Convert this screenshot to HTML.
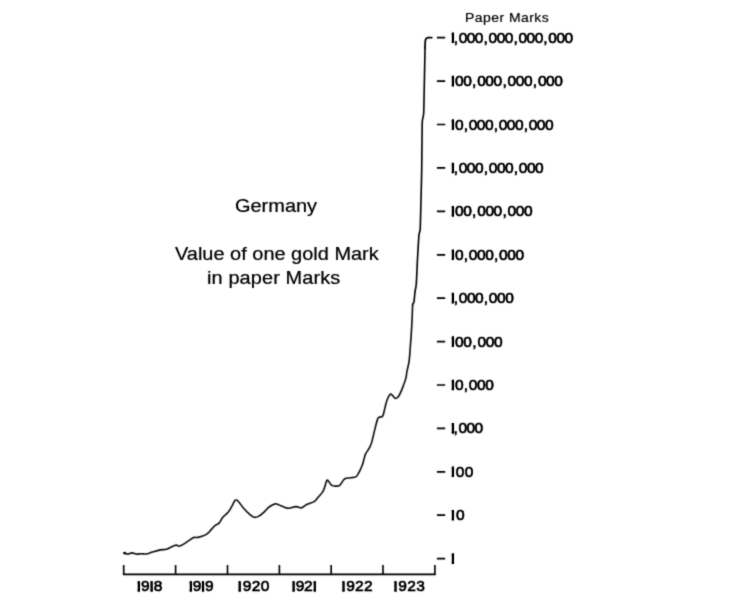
<!DOCTYPE html>
<html lang="en">
<head>
<meta charset="utf-8">
<title>Germany – Value of one gold Mark in paper Marks</title>
<style>
html,body{margin:0;padding:0;background:#fff;}
body{width:744px;height:606px;position:relative;overflow:hidden;font-family:"Liberation Sans",Arial,Helvetica,sans-serif;color:#1b1b1b;}
#chart{position:absolute;left:0;top:0;width:744px;height:606px;filter:url(#soft);}
svg{position:absolute;left:0;top:0;}
.t{position:absolute;white-space:nowrap;line-height:1;margin:0;}
.title{font-size:19.2px;color:#1d1d1d;-webkit-text-stroke:0.15px #1d1d1d;transform-origin:0 0;transform:scaleX(1.04);}
.unit{font-size:13.4px;color:#222;letter-spacing:0.43px;-webkit-text-stroke:0.12px #222;transform-origin:0 0;transform:scaleX(1.045);}
.n{font-size:15.5px;color:#151515;-webkit-text-stroke:0.55px #151515;letter-spacing:0;}
.o{display:inline-block;-webkit-text-stroke-width:1.8px;clip-path:inset(2.7px calc(100% - 5.7px) 2.2px 3.5px);margin-left:-2.3px;margin-right:-1.55px;}
.c{display:inline-block;margin:0 1.2px 0 0.6px;}
.k{margin-left:-1.2px;}
</style>
</head>
<body>
<div id="chart">
<svg width="744" height="606" viewBox="0 0 744 606" fill="none" stroke="#242424" stroke-linecap="round" stroke-linejoin="round">
<path d="M123.9 553.3C124.1 553.3 124.4 553.3 125.1 553.4C125.8 553.5 126.9 554.1 128.1 554.0C129.3 553.9 130.6 552.9 132.1 552.9C133.6 552.9 135.2 554.0 136.8 554.1C138.4 554.2 139.9 553.7 141.5 553.7C143.1 553.7 144.4 554.3 146.2 554.0C148.0 553.7 150.0 552.8 152.3 552.1C154.7 551.4 158.0 550.4 160.3 549.9C162.7 549.4 164.5 549.8 166.4 549.3C168.3 548.8 170.1 547.4 171.7 546.7C173.3 546.0 175.0 545.2 176.2 545.1C177.4 545.0 177.9 546.3 179.1 546.2C180.3 546.1 181.6 545.3 183.2 544.4C184.8 543.5 186.8 541.9 188.5 540.8C190.2 539.7 192.1 538.2 193.7 537.6C195.3 537.0 195.9 537.9 198.0 537.4C200.1 536.9 204.1 535.5 206.0 534.6C207.9 533.7 208.0 533.2 209.4 531.7C210.8 530.2 213.1 527.2 214.7 525.8C216.3 524.4 217.8 524.5 219.1 523.1C220.4 521.7 221.3 519.1 222.8 517.3C224.3 515.5 226.5 514.2 228.1 512.3C229.7 510.3 231.0 507.6 232.2 505.6C233.4 503.6 234.3 500.9 235.3 500.2C236.3 499.5 236.8 499.8 238.2 501.2C239.6 502.6 241.7 506.1 243.6 508.3C245.5 510.5 247.9 512.9 249.7 514.4C251.4 515.9 252.7 517.0 254.1 517.3C255.5 517.6 256.8 517.2 258.4 516.4C260.0 515.6 262.0 513.9 263.8 512.3C265.6 510.7 267.2 508.4 269.1 507.0C271.0 505.6 273.6 504.3 275.2 503.9C276.8 503.5 277.1 504.2 278.5 504.7C279.9 505.2 282.2 506.4 283.9 507.0C285.6 507.6 286.6 508.4 288.6 508.3C290.6 508.2 293.9 506.7 296.0 506.6C298.1 506.5 299.6 508.2 301.4 507.9C303.2 507.5 304.6 505.6 306.7 504.5C308.8 503.4 312.1 502.9 314.1 501.6C316.1 500.3 317.4 498.1 318.8 496.5C320.2 494.9 321.8 493.4 322.8 491.7C323.8 490.0 324.2 488.3 324.9 486.4C325.6 484.5 326.2 481.1 326.9 480.3C327.6 479.5 328.1 480.9 328.9 481.7C329.7 482.5 330.5 484.7 331.6 485.4C332.7 486.1 334.2 486.1 335.6 486.1C337.0 486.1 338.4 486.4 339.7 485.3C341.0 484.2 342.6 480.9 343.7 479.7C344.8 478.5 345.2 478.5 346.4 478.2C347.6 477.9 349.3 478.0 350.8 477.8C352.3 477.6 354.2 477.6 355.4 477.1C356.5 476.6 356.9 475.8 357.7 474.6C358.5 473.4 359.6 471.4 360.4 469.7C361.2 468.0 362.0 466.0 362.6 464.3C363.2 462.6 363.4 461.3 363.9 459.6C364.4 457.9 364.6 456.0 365.5 454.1C366.4 452.2 368.2 450.0 369.2 448.1C370.2 446.2 370.7 445.8 371.6 442.6C372.6 439.4 373.9 433.0 374.9 429.1C375.9 425.2 376.8 421.1 377.6 419.1C378.4 417.1 378.9 417.5 379.7 417.0C380.5 416.5 381.8 417.7 382.7 416.1C383.6 414.5 384.3 410.2 385.0 407.6C385.7 405.0 386.1 402.4 387.0 400.2C387.9 398.0 389.4 394.9 390.4 394.2C391.4 393.5 392.2 395.5 393.1 396.2C394.0 396.9 394.8 398.6 395.8 398.5C396.8 398.4 397.9 397.6 399.1 395.5C400.3 393.4 402.1 389.0 403.2 386.1C404.3 383.2 405.3 380.6 405.9 378.1C406.5 375.6 406.5 373.9 407.0 371.2C407.5 368.5 408.4 365.8 409.0 361.8C409.6 357.8 409.9 352.8 410.3 347.0C410.8 341.2 411.3 333.9 411.7 326.9C412.1 319.9 412.5 308.6 412.6 305.0" stroke-width="1.6" stroke="#303030"/>
<path d="M412.6 305.0C412.6 304.8 412.7 303.9 412.9 303.6C413.1 303.3 413.7 303.1 413.9 302.4C414.1 301.7 414.3 299.2 414.4 298.0C414.5 296.8 414.8 293.5 415.0 291.8C415.2 290.1 416.0 287.9 416.3 283.8C416.6 279.7 417.3 262.0 417.6 256.9C417.9 251.8 418.4 242.6 418.6 240.0C418.8 237.4 418.8 235.6 419.0 234.5C419.2 233.4 419.7 231.9 419.9 231.0C420.1 230.1 420.2 230.8 420.3 227.2C420.4 223.6 420.8 206.7 421.0 200.0C421.2 193.3 421.6 177.0 421.7 170.0C421.8 163.0 421.9 145.7 422.0 140.0C422.1 134.3 422.1 124.4 422.3 121.5C422.5 118.6 423.3 116.3 423.5 115.0C423.7 113.7 423.7 112.3 423.8 110.0C423.9 107.7 424.0 99.7 424.1 95.0C424.2 90.3 424.5 75.5 424.6 70.0C424.7 64.5 425.0 50.6 425.0 48.0" stroke-width="1.6"/>
<path d="M425.0 48.0C425.0 47.0 425.1 43.4 425.2 42.0C425.3 40.6 425.4 40.2 425.6 39.6C425.8 39.0 426.2 38.4 426.6 38.1C427.0 37.8 427.3 37.7 428.2 37.6C429.1 37.5 431.2 37.5 431.8 37.5" stroke-width="1.75"/>
<circle cx="124.6" cy="553" r="1.2" fill="#1c1c1c" stroke="none"/>
<path d="M122.9 574.4H435.7" stroke-width="1.7" stroke-linecap="butt"/>
<path d="M123.7 565V574.4M175.6 565V574.4M227.5 565V574.4M279.4 565V574.4M331.2 565V574.4M383.0 565V574.4M434.9 565V574.4" stroke-width="1.6" stroke-linecap="butt"/>
<path d="M436.9 37.7H445.2M436.9 81.1H445.2M436.9 124.5H445.2M436.9 167.9H445.2M436.9 211.3H445.2M436.9 254.8H445.2M436.9 298.2H445.2M436.9 341.6H445.2M436.9 385.0H445.2M436.9 428.4H445.2M436.9 471.8H445.2M436.9 515.2H445.2M436.9 558.6H445.2" stroke-width="1.7" stroke-linecap="butt"/>
<defs><filter id="soft" x="0" y="0" width="100%" height="100%" color-interpolation-filters="sRGB"><feConvolveMatrix order="3" kernelMatrix="0.03 0.1 0.03 0.1 0.48 0.1 0.03 0.1 0.03" edgeMode="duplicate" preserveAlpha="false"/><feComponentTransfer><feFuncA type="linear" slope="1.2" intercept="0"/></feComponentTransfer></filter></defs>
</svg>
<div class="t unit" id="unit" style="left:464.9px;top:10.6px">Paper Marks</div>
<div class="t title" id="t1" style="left:234.7px;top:195.6px">Germany</div>
<div class="t title" id="t2" style="left:175.0px;top:244.3px">Value of one gold Mark</div>
<div class="t title" id="t3" style="left:207.4px;top:268.3px;letter-spacing:0.1px">in paper Marks</div>
<div class="t n y" aria-label="1,000,000,000,000" style="left:450.6px;top:30px;transform:translateY(-0.30px);letter-spacing:-0.52px"><span class="o">1</span><span class="c k">,</span>000<span class="c">,</span>000<span class="c">,</span>000<span class="c">,</span>000</div>
<div class="t n y" aria-label="100,000,000,000" style="left:450.6px;top:73px;transform:translateY(0.11px);letter-spacing:-0.40px"><span class="o">1</span>00<span class="c">,</span>000<span class="c">,</span>000<span class="c">,</span>000</div>
<div class="t n y" aria-label="10,000,000,000" style="left:450.6px;top:117px;transform:translateY(-0.48px);letter-spacing:-0.49px"><span class="o">1</span>0<span class="c">,</span>000<span class="c">,</span>000<span class="c">,</span>000</div>
<div class="t n y" aria-label="1,000,000,000" style="left:450.6px;top:160px;transform:translateY(-0.07px);letter-spacing:-0.48px"><span class="o">1</span><span class="c k">,</span>000<span class="c">,</span>000<span class="c">,</span>000</div>
<div class="t n y" aria-label="100,000,000" style="left:450.6px;top:203px;transform:translateY(0.34px);letter-spacing:-0.39px"><span class="o">1</span>00<span class="c">,</span>000<span class="c">,</span>000</div>
<div class="t n y" aria-label="10,000,000" style="left:450.6px;top:247px;transform:translateY(-0.25px);letter-spacing:-0.43px"><span class="o">1</span>0<span class="c">,</span>000<span class="c">,</span>000</div>
<div class="t n y" aria-label="1,000,000" style="left:450.6px;top:290px;transform:translateY(0.16px);letter-spacing:-0.47px"><span class="o">1</span><span class="c k">,</span>000<span class="c">,</span>000</div>
<div class="t n y" aria-label="100,000" style="left:450.6px;top:334px;transform:translateY(-0.43px);letter-spacing:-0.31px"><span class="o">1</span>00<span class="c">,</span>000</div>
<div class="t n y" aria-label="10,000" style="left:450.6px;top:377px;transform:translateY(-0.02px);letter-spacing:-0.42px"><span class="o">1</span>0<span class="c">,</span>000</div>
<div class="t n y" aria-label="1,000" style="left:450.6px;top:420px;transform:translateY(0.39px);letter-spacing:-0.59px"><span class="o">1</span><span class="c k">,</span>000</div>
<div class="t n y" aria-label="100" style="left:450.6px;top:464px;transform:translateY(-0.20px);letter-spacing:0.44px"><span class="o">1</span>00</div>
<div class="t n y" aria-label="10" style="left:450.6px;top:507px;transform:translateY(0.21px);letter-spacing:0.50px"><span class="o">1</span>0</div>
<div class="t n y" aria-label="1" style="left:450.6px;top:551px;transform:translateY(-0.38px);letter-spacing:0.00px"><span class="o">1</span></div>
<div class="t n x" aria-label="1918" style="left:136.5px;top:578px;transform:translateY(0.45px);letter-spacing:-0.30px"><span class="o">1</span>9<span class="o">1</span>8</div>
<div class="t n x" aria-label="1919" style="left:188.5px;top:578px;transform:translateY(0.45px);letter-spacing:-0.60px"><span class="o">1</span>9<span class="o">1</span>9</div>
<div class="t n x" aria-label="1920" style="left:237.4px;top:578px;transform:translateY(0.45px);letter-spacing:0.47px"><span class="o">1</span>920</div>
<div class="t n x" aria-label="1921" style="left:291.3px;top:578px;transform:translateY(0.45px);letter-spacing:-0.30px"><span class="o">1</span>92<span class="o">1</span></div>
<div class="t n x" aria-label="1922" style="left:341.2px;top:578px;transform:translateY(0.45px);letter-spacing:0.23px"><span class="o">1</span>922</div>
<div class="t n x" aria-label="1923" style="left:393.2px;top:578px;transform:translateY(0.45px);letter-spacing:0.33px"><span class="o">1</span>923</div>
</div>
</body>
</html>
